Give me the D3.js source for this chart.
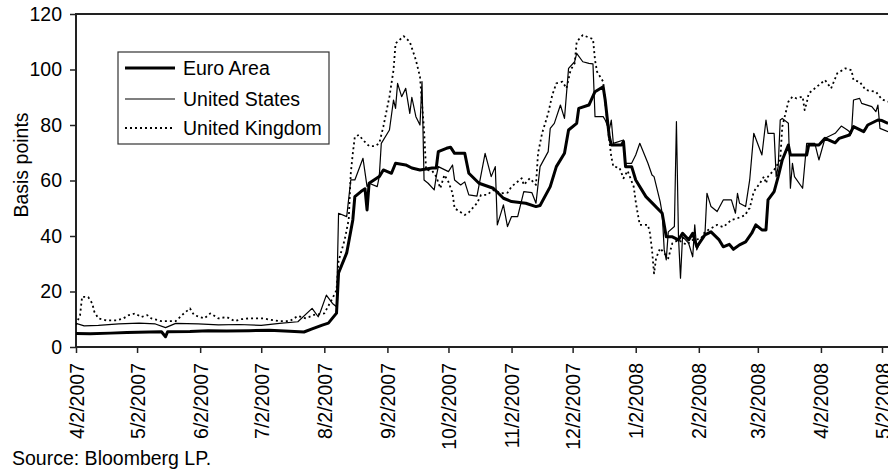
<!DOCTYPE html>
<html>
<head>
<meta charset="utf-8">
<script src="https://cdn.jsdelivr.net/npm/d3@7"></script>
<style>
  body { margin: 0; background: #fff; }
  svg { display: block; font-family: "Liberation Sans", Arial, sans-serif; }
</style>
</head>
<body>
<svg id="chart" width="888" height="471"></svg>
<script>
// tick labels on the date axis (2nd of each month)
var tickLabels = ["4/2/2007", "5/2/2007", "6/2/2007", "7/2/2007", "8/2/2007", "9/2/2007",
  "10/2/2007", "11/2/2007", "12/2/2007", "1/2/2008", "2/2/2008", "3/2/2008", "4/2/2008", "5/2/2008"];
var yTicks = [0, 20, 40, 60, 80, 100, 120];

var seriesNames = ["Euro Area", "United States", "United Kingdom"];

// values, basis points
var euroArea = [
  ["2007-04-02", 4.9], ["2007-04-09", 4.8], ["2007-04-19", 5.0], ["2007-04-27", 5.2],
  ["2007-05-08", 5.4], ["2007-05-14", 5.5], ["2007-05-16", 3.7], ["2007-05-17", 5.5],
  ["2007-05-28", 5.6], ["2007-06-06", 5.9], ["2007-06-15", 5.8], ["2007-06-26", 5.9],
  ["2007-07-06", 6.0], ["2007-07-16", 5.7], ["2007-07-23", 5.4], ["2007-07-27", 6.5],
  ["2007-08-01", 7.9], ["2007-08-04", 8.6], ["2007-08-08", 12.2], ["2007-08-09", 26.7],
  ["2007-08-13", 33.9], ["2007-08-16", 45.8], ["2007-08-17", 54.2], ["2007-08-20", 56],
  ["2007-08-22", 57], ["2007-08-23", 49.4], ["2007-08-24", 59], ["2007-08-29", 61.4],
  ["2007-08-31", 63.8], ["2007-09-04", 62.6], ["2007-09-06", 66.2], ["2007-09-11", 65.6],
  ["2007-09-14", 64.5], ["2007-09-18", 63.8], ["2007-09-24", 64.5], ["2007-09-26", 64.5],
  ["2007-09-27", 70.4], ["2007-10-01", 71.6], ["2007-10-03", 72], ["2007-10-05", 69.8],
  ["2007-10-10", 69.8], ["2007-10-12", 62.6], ["2007-10-17", 59], ["2007-10-24", 57.2],
  ["2007-10-29", 53.6], ["2007-11-02", 52.4], ["2007-11-09", 51.8], ["2007-11-14", 50.6],
  ["2007-11-16", 51], ["2007-11-21", 57.8], ["2007-11-24", 65], ["2007-11-28", 69.8],
  ["2007-11-30", 78.2], ["2007-12-04", 80.6], ["2007-12-05", 86], ["2007-12-10", 87.2],
  ["2007-12-13", 92], ["2007-12-17", 93.8], ["2007-12-18", 89], ["2007-12-20", 75.8],
  ["2007-12-21", 72.8], ["2007-12-26", 72.8], ["2007-12-27", 74], ["2007-12-28", 65],
  ["2007-12-31", 65], ["2008-01-02", 60.2], ["2008-01-07", 54.2], ["2008-01-11", 51.2],
  ["2008-01-15", 48.2], ["2008-01-17", 39.7], ["2008-01-20", 39.7], ["2008-01-23", 38.6],
  ["2008-01-25", 41], ["2008-01-28", 38.6], ["2008-01-30", 41], ["2008-02-01", 36.1],
  ["2008-02-05", 40.4], ["2008-02-08", 41.5], ["2008-02-12", 38.6], ["2008-02-14", 36.1],
  ["2008-02-17", 37], ["2008-02-19", 35.2], ["2008-02-22", 36.8], ["2008-02-25", 37.9],
  ["2008-02-28", 41], ["2008-03-01", 44], ["2008-03-04", 42.2], ["2008-03-06", 42.2],
  ["2008-03-07", 53], ["2008-03-10", 56], ["2008-03-12", 61.4], ["2008-03-14", 67.4],
  ["2008-03-17", 72.8], ["2008-03-18", 69.2], ["2008-03-26", 69.2], ["2008-03-27", 72.8],
  ["2008-04-01", 72.8], ["2008-04-04", 75.2], ["2008-04-09", 73.6], ["2008-04-11", 75.2],
  ["2008-04-16", 76.4], ["2008-04-18", 79.4], ["2008-04-23", 77.6], ["2008-04-25", 80],
  ["2008-04-30", 81.8], ["2008-05-02", 81.6], ["2008-05-05", 80.6]
];

var unitedStates = [
  ["2007-04-02", 8.5], ["2007-04-06", 7.6], ["2007-04-13", 7.8], ["2007-04-23", 8.3],
  ["2007-05-03", 8.6], ["2007-05-11", 8.3], ["2007-05-16", 7.0], ["2007-05-21", 8.5],
  ["2007-06-01", 8.3], ["2007-06-11", 8.0], ["2007-06-21", 8.1], ["2007-07-02", 7.8],
  ["2007-07-11", 8.5], ["2007-07-20", 9.1], ["2007-07-27", 13.9], ["2007-07-30", 10.9],
  ["2007-07-31", 12.5], ["2007-08-03", 18.7], ["2007-08-06", 15.7], ["2007-08-08", 14.5],
  ["2007-08-09", 48.2], ["2007-08-13", 47], ["2007-08-15", 60.2], ["2007-08-17", 60.2],
  ["2007-08-21", 68], ["2007-08-23", 57.8], ["2007-08-24", 59], ["2007-08-28", 57.8],
  ["2007-08-29", 61.4], ["2007-08-30", 73.4], ["2007-09-03", 78.2], ["2007-09-05", 89],
  ["2007-09-06", 86], ["2007-09-07", 95], ["2007-09-09", 90.2], ["2007-09-11", 93.2],
  ["2007-09-13", 84.2], ["2007-09-14", 90], ["2007-09-16", 83], ["2007-09-18", 80],
  ["2007-09-19", 95.6], ["2007-09-20", 60.2], ["2007-09-22", 59], ["2007-09-25", 56.6],
  ["2007-09-26", 61.4], ["2007-09-27", 65], ["2007-10-02", 63.2], ["2007-10-04", 65.6],
  ["2007-10-05", 60.2], ["2007-10-08", 58.4], ["2007-10-10", 59.5], ["2007-10-12", 54.8],
  ["2007-10-16", 54.4], ["2007-10-20", 69.8], ["2007-10-23", 61.4], ["2007-10-25", 65],
  ["2007-10-26", 44], ["2007-10-29", 51.2], ["2007-10-31", 43.4], ["2007-11-02", 47],
  ["2007-11-05", 47], ["2007-11-08", 56], ["2007-11-12", 55.6], ["2007-11-14", 51.8],
  ["2007-11-16", 65], ["2007-11-20", 70.4], ["2007-11-21", 78.8], ["2007-11-23", 80.6],
  ["2007-11-26", 87.2], ["2007-11-28", 82.4], ["2007-11-30", 100.4], ["2007-12-03", 102.8],
  ["2007-12-04", 105.8], ["2007-12-07", 102.8], ["2007-12-10", 102.2], ["2007-12-12", 102],
  ["2007-12-13", 83], ["2007-12-17", 83], ["2007-12-18", 81.8], ["2007-12-20", 78.2],
  ["2007-12-21", 81.8], ["2007-12-22", 73.4], ["2007-12-27", 74.6], ["2007-12-28", 66.2],
  ["2007-12-31", 66.2], ["2008-01-02", 69.2], ["2008-01-04", 73.4], ["2008-01-08", 66.2],
  ["2008-01-10", 62], ["2008-01-11", 61.4], ["2008-01-14", 52.4], ["2008-01-15", 48.2],
  ["2008-01-16", 35], ["2008-01-17", 31.4], ["2008-01-18", 41.5], ["2008-01-21", 43.4],
  ["2008-01-22", 81.2], ["2008-01-23", 39.8], ["2008-01-24", 24.8], ["2008-01-25", 39.8],
  ["2008-01-28", 37.4], ["2008-01-30", 32.5], ["2008-01-31", 44], ["2008-02-01", 35],
  ["2008-02-04", 40], ["2008-02-05", 40.4], ["2008-02-06", 55.4], ["2008-02-08", 50.6],
  ["2008-02-11", 48.8], ["2008-02-14", 53], ["2008-02-18", 53], ["2008-02-20", 48.2],
  ["2008-02-21", 55.4], ["2008-02-22", 51.8], ["2008-02-25", 50.6], ["2008-02-27", 60.2],
  ["2008-02-29", 77], ["2008-03-04", 69.2], ["2008-03-06", 81.8], ["2008-03-07", 77],
  ["2008-03-10", 77], ["2008-03-11", 61.4], ["2008-03-12", 65], ["2008-03-13", 81.8],
  ["2008-03-14", 82.4], ["2008-03-17", 80.6], ["2008-03-18", 57.2], ["2008-03-19", 66.2],
  ["2008-03-20", 61.4], ["2008-03-24", 57.2], ["2008-03-26", 73.4], ["2008-03-30", 73.4],
  ["2008-04-01", 67.4], ["2008-04-04", 75.2], ["2008-04-09", 77], ["2008-04-12", 79.6],
  ["2008-04-15", 78.2], ["2008-04-17", 77], ["2008-04-18", 89], ["2008-04-21", 89.6],
  ["2008-04-22", 87.8], ["2008-04-27", 86.6], ["2008-04-29", 84.8], ["2008-04-30", 87.2],
  ["2008-05-01", 78.8], ["2008-05-05", 77.6]
];

var unitedKingdom = [
  ["2007-04-02", 8.0], ["2007-04-04", 11.5], ["2007-04-05", 18.1], ["2007-04-08", 18],
  ["2007-04-10", 15.7], ["2007-04-11", 12.7], ["2007-04-13", 10.3], ["2007-04-17", 9.6],
  ["2007-04-22", 9.6], ["2007-04-25", 10.2], ["2007-04-28", 11.5], ["2007-05-01", 12.1],
  ["2007-05-04", 10.8], ["2007-05-07", 11.5], ["2007-05-09", 10.3], ["2007-05-14", 9.3],
  ["2007-05-21", 9.3], ["2007-05-25", 12.1], ["2007-05-28", 13.9], ["2007-05-30", 11.5],
  ["2007-06-04", 10.3], ["2007-06-07", 12.1], ["2007-06-11", 10.3], ["2007-06-15", 10.8],
  ["2007-06-19", 9.3], ["2007-06-22", 10], ["2007-06-26", 10.3], ["2007-07-03", 10.3],
  ["2007-07-06", 9.9], ["2007-07-11", 9.3], ["2007-07-16", 9.3], ["2007-07-20", 11.2],
  ["2007-07-24", 10.3], ["2007-07-28", 11.6], ["2007-08-02", 12.1], ["2007-08-06", 17.5],
  ["2007-08-08", 20.5], ["2007-08-09", 31], ["2007-08-12", 38.6], ["2007-08-14", 46],
  ["2007-08-15", 62.6], ["2007-08-16", 69.8], ["2007-08-17", 75.8], ["2007-08-19", 76.4],
  ["2007-08-21", 74.6], ["2007-08-24", 72.4], ["2007-08-27", 72.4], ["2007-08-29", 73.4],
  ["2007-08-31", 79.4], ["2007-09-03", 90.2], ["2007-09-05", 99.8], ["2007-09-06", 109.4],
  ["2007-09-10", 112], ["2007-09-13", 110], ["2007-09-16", 103.4], ["2007-09-18", 97.4],
  ["2007-09-19", 87.8], ["2007-09-20", 78.2], ["2007-09-21", 63.8], ["2007-09-24", 63.5],
  ["2007-09-26", 61.4], ["2007-09-28", 57.2], ["2007-09-30", 62], ["2007-10-02", 59.5],
  ["2007-10-04", 55.4], ["2007-10-05", 50], ["2007-10-10", 47.6], ["2007-10-12", 48.5],
  ["2007-10-16", 51.8], ["2007-10-18", 54.8], ["2007-10-21", 54.8], ["2007-10-24", 56.6],
  ["2007-10-28", 55.4], ["2007-10-31", 55.6], ["2007-11-02", 57.8], ["2007-11-07", 60.8],
  ["2007-11-08", 58.4], ["2007-11-11", 60.8], ["2007-11-14", 58.4], ["2007-11-15", 69.8],
  ["2007-11-17", 77], ["2007-11-20", 84.2], ["2007-11-22", 90.8], ["2007-11-24", 95],
  ["2007-11-27", 95.6], ["2007-11-29", 93.2], ["2007-12-01", 99.8], ["2007-12-03", 102.2],
  ["2007-12-04", 110], ["2007-12-07", 112.4], ["2007-12-10", 111.5], ["2007-12-12", 111],
  ["2007-12-13", 103.4], ["2007-12-14", 99.2], ["2007-12-17", 95.6], ["2007-12-18", 88.4],
  ["2007-12-20", 74.6], ["2007-12-21", 68.6], ["2007-12-22", 65], ["2007-12-25", 64.6],
  ["2007-12-27", 60.8], ["2007-12-29", 63.5], ["2008-01-01", 57.8], ["2008-01-02", 52.4],
  ["2008-01-03", 48], ["2008-01-04", 44], ["2008-01-08", 44], ["2008-01-09", 41],
  ["2008-01-10", 35], ["2008-01-11", 26.5], ["2008-01-12", 32], ["2008-01-14", 35.6],
  ["2008-01-18", 32], ["2008-01-20", 37.4], ["2008-01-23", 38.6], ["2008-01-27", 36.8],
  ["2008-01-30", 38.6], ["2008-02-03", 39], ["2008-02-05", 41.5], ["2008-02-11", 44],
  ["2008-02-14", 43.2], ["2008-02-18", 45.8], ["2008-02-21", 46.4], ["2008-02-25", 47.6],
  ["2008-02-26", 49.4], ["2008-02-27", 50], ["2008-02-29", 56], ["2008-03-03", 59],
  ["2008-03-05", 61.4], ["2008-03-06", 59], ["2008-03-07", 61.4], ["2008-03-10", 63.8],
  ["2008-03-13", 67.4], ["2008-03-14", 79.4], ["2008-03-16", 85.4], ["2008-03-17", 88.4],
  ["2008-03-19", 90.2], ["2008-03-21", 89.6], ["2008-03-24", 90.2], ["2008-03-25", 85.4],
  ["2008-03-26", 88], ["2008-03-27", 91.4], ["2008-03-31", 93.8], ["2008-04-04", 96.2],
  ["2008-04-07", 93.2], ["2008-04-10", 98.6], ["2008-04-14", 100.4], ["2008-04-17", 99.8],
  ["2008-04-18", 96.2], ["2008-04-21", 95.6], ["2008-04-24", 92.6], ["2008-04-29", 92],
  ["2008-05-02", 89.2], ["2008-05-05", 88.4]
];

var margin = { top: 14, left: 76 },
  w = 806,   // 4/2/2007 -> 5/2/2008
  h = 333;

var parseDay = d3.timeParse("%Y-%m-%d");
var parseTick = d3.timeParse("%m/%d/%Y");

var svg = d3.select("#chart");
var fontSize = "19.5px";

var x_scale = d3.scaleTime()
  .domain([parseTick("4/2/2007"), parseTick("5/2/2008")])
  .range([0, w]);
var y_scale = d3.scaleLinear().domain([0, 120]).range([h, 0]);

var container = svg.append("g")
  .attr("transform", `translate(${margin.left},${margin.top})`);

svg.append("defs").append("clipPath").attr("id", "plotClip")
  .append("rect").attr("x", 0).attr("y", -4).attr("width", w + 40).attr("height", h + 8);

// y axis
var yAxis = container.append("g")
  .call(d3.axisLeft(y_scale).tickValues(yTicks).tickSize(6).tickSizeOuter(0).tickPadding(8));
yAxis.select(".domain").remove();
yAxis.selectAll("line").attr("stroke", "#222").attr("stroke-width", 1.5);
yAxis.selectAll("text")
  .attr("font-size", fontSize).attr("font-family", "Liberation Sans, Arial, sans-serif")
  .attr("fill", "#000");

// x axis
var tickDates = tickLabels.map(function (d) { return parseTick(d); });
var xAxis = container.append("g")
  .attr("transform", `translate(0, ${h})`)
  .call(d3.axisBottom(x_scale).tickValues(tickDates).tickSize(6).tickSizeOuter(0)
    .tickFormat(function (d, i) { return tickLabels[i]; }));
xAxis.select(".domain").remove();
xAxis.selectAll("line").attr("stroke", "#222").attr("stroke-width", 1.5);
xAxis.selectAll("text")
  .attr("transform", "rotate(-90)")
  .attr("x", -16)
  .attr("y", 7)
  .attr("dy", 0)
  .attr("text-anchor", "end")
  .attr("font-size", fontSize).attr("font-family", "Liberation Sans, Arial, sans-serif")
  .attr("fill", "#000");

// plot area border
container.append("rect")
  .attr("x", 0).attr("y", 0).attr("width", w + 30).attr("height", h)
  .attr("fill", "none").attr("stroke", "#222").attr("stroke-width", 2);

// lines
var line = d3.line()
  .x(function (d) { return x_scale(parseDay(d[0])); })
  .y(function (d) { return y_scale(d[1]); });

var styles = [
  { width: 3, dash: null },
  { width: 1.2, dash: null },
  { width: 1.8, dash: "2,3" }
];
var allSeries = [unitedKingdom, unitedStates, euroArea];
var order = [2, 1, 0];

var lineGroup = container.append("g").attr("clip-path", "url(#plotClip)");
allSeries.forEach(function (s, i) {
  var st = styles[order[i]];
  lineGroup.append("path")
    .datum(s)
    .attr("d", line)
    .attr("fill", "none")
    .attr("stroke", "#000")
    .attr("stroke-width", st.width)
    .attr("stroke-linejoin", "round")
    .attr("stroke-dasharray", st.dash);
});

// legend
var legend = svg.append("g").attr("transform", "translate(118,52)");
legend.append("rect")
  .attr("width", 211).attr("height", 92)
  .attr("fill", "#fff").attr("stroke", "#333").attr("stroke-width", 1.2);
var rowY = [16, 47, 76];
seriesNames.forEach(function (name, i) {
  legend.append("line")
    .attr("x1", 7).attr("x2", 57).attr("y1", rowY[i]).attr("y2", rowY[i])
    .attr("stroke", "#000").attr("stroke-width", styles[i].width)
    .attr("stroke-dasharray", styles[i].dash);
  legend.append("text")
    .attr("x", 65).attr("y", rowY[i]).attr("dy", "0.35em")
    .attr("font-size", fontSize).attr("fill", "#000")
    .text(name);
});

// axis title and source
svg.append("text")
  .attr("transform", "translate(28,165) rotate(-90)")
  .attr("text-anchor", "middle")
  .attr("font-size", fontSize)
  .text("Basis points");

svg.append("text")
  .attr("x", 12).attr("y", 465)
  .attr("font-size", fontSize)
  .text("Source: Bloomberg LP.");
</script>
</body>
</html>
